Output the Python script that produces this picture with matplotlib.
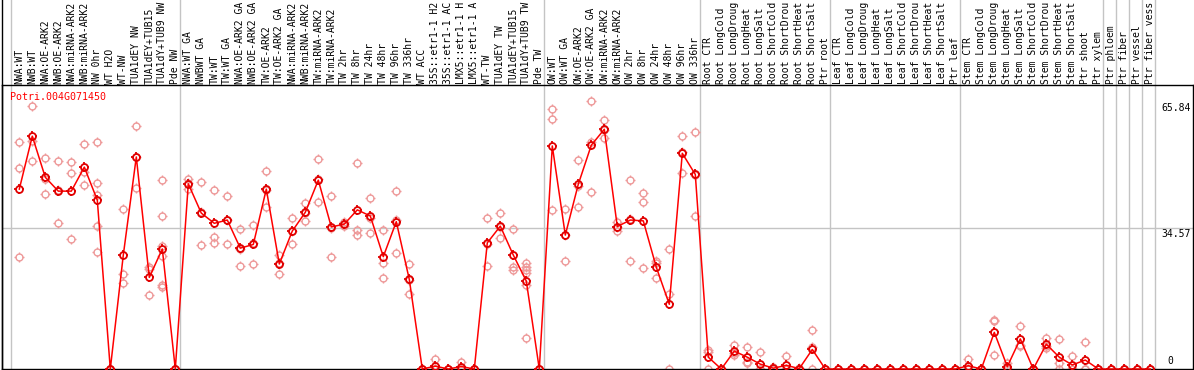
import numpy as np
import matplotlib
matplotlib.use("Agg")
import matplotlib.pyplot as plt
from matplotlib.path import Path
from matplotlib.lines import Line2D

gene = "Potri.004G071450"

# sample labels by group (as shown, clipped at the top of the figure)
g_nw = ["NWA:WT", "NWB:WT", "NWA:OE-ARK2", "NWB:OE-ARK2", "NWA:miRNA-ARK2",
        "NWB:miRNA-ARK2", "NW 0hr", "WT H2O", "WT-NW", "TUA1dEY NW",
        "TUA1dEY+TUB15", "TUA1dY+TUB9 NW", "Pde NW"]
g_tw = ["NWA:WT GA", "NWBWT GA", "TW:WT", "TW:WT GA", "NWA:OE-ARK2 GA",
        "NWB:OE-ARK2 GA", "TW:OE-ARK2", "TW:OE-ARK2 GA", "NWA:miRNA-ARK2",
        "NWB:miRNA-ARK2", "TW:miRNA-ARK2", "TW:miRNA-ARK2", "TW 2hr", "TW 8hr",
        "TW 24hr", "TW 48hr", "TW 96hr", "TW 336hr", "WT ACC", "35S::etr1-1 H2",
        "35S::etr1-1 AC", "LMX5::etr1-1 H", "LMX5::etr1-1 A", "WT-TW",
        "TUA1dEY TW", "TUA1dEY+TUB15", "TUA1dY+TUB9 TW", "Pde TW"]
g_ow = ["OW:WT", "OW:WT GA", "OW:OE-ARK2", "OW:OE-ARK2 GA", "OW:miRNA-ARK2",
        "OW:miRNA-ARK2", "OW 2hr", "OW 8hr", "OW 24hr", "OW 48hr", "OW 96hr",
        "OW 336hr"]
stress = ["CTR", "LongCold", "LongDroug", "LongHeat", "LongSalt",
          "ShortCold", "ShortDrou", "ShortHeat", "ShortSalt"]
g_root = ["Root " + s for s in stress] + ["Ptr root"]
g_leaf = ["Leaf " + s for s in stress] + ["Ptr leaf"]
g_stem = ["Stem " + s for s in stress] + ["Ptr shoot", "Ptr xylem"]
g_ptr = ["Ptr phloem", "Ptr fiber", "Ptr vessel", "Ptr fiber vess"]

groups = [g_nw, g_tw, g_ow, g_root, g_leaf, g_stem] + [[s] for s in g_ptr]
labels = [s for g in groups for s in g]

# mean expression per sample
means = [44.2, 57.2, 47.1, 43.7, 43.7, 49.6, 41.5, 0, 28.0, 52.1, 22.5, 29.5, 0,
         45.5, 38.3, 35.8, 36.6, 29.7, 30.6, 44.2, 25.8, 33.9, 38.5, 46.4, 34.9,
         35.6, 39.1, 37.6, 27.6, 36.2, 22.0, 0, 0.7, 0, 0.6, 0, 31.0, 35.1, 28.0,
         21.6, 0,
         54.8, 32.9, 45.4, 55.0, 58.9, 35.0, 36.6, 36.4, 25.0, 15.9, 53.0, 47.8,
         2.9, 0, 4.4, 2.9, 1.2, 0.2, 0.9, 0.1, 4.8, 0,
         0, 0, 0, 0, 0, 0, 0, 0, 0, 0,
         0.8, 0, 9.0, 0.6, 7.4, 0, 6.1, 2.9, 1.0, 2.2, 0,
         0, 0, 0, 0]

# replicate values per sample
reps = [[55.8, 49.4, 27.5], [64.6, 51.0, 56.1], [51.8, 42.9, 46.6],
        [51.1, 35.9, 44.1], [50.9, 48.2, 31.9], [55.2, 45.2, 48.4],
        [55.7, 45.6, 42.8, 35.1, 28.7], [0, 0, 0], [39.2, 23.3, 21.1],
        [59.7, 44.4, 52.2], [25.1, 24.6, 18.1],
        [46.4, 37.6, 30.3, 27.8, 20.6, 20.2], [0, 0, 0],
        [46.6, 44.2, 45.6], [45.9, 38.5, 30.5], [44.0, 32.5, 30.9],
        [42.6, 30.7, 36.5], [34.3, 25.3, 29.5], [35.4, 25.8, 31.0],
        [48.6, 39.9, 44.1], [28.0, 23.3, 26.0], [37.0, 30.6, 34.0],
        [40.7, 36.4, 38.4], [51.5, 41.0, 46.7], [42.5, 27.6, 34.6],
        [36.1, 35.6, 35.1], [50.5, 34.2, 32.9], [41.9, 37.0, 33.3],
        [34.2, 26.0, 22.3], [43.7, 28.4, 36.5], [25.8, 18.4, 21.8],
        [0, 0, 0], [2.4, 0, 0], [0, 0, 0], [1.6, 0.3, 0], [0, 0, 0],
        [37.0, 25.3, 30.7], [38.3, 32.1, 35.0], [34.3, 25.1, 24.3],
        [26.0, 25.1, 24.3, 23.5, 20.6, 7.5], [0, 0, 0],
        [63.9, 61.4, 39.1], [39.3, 26.5, 33.0], [51.4, 39.9, 45.0],
        [65.84, 55.8, 43.4], [61.2, 56.7, 58.8], [36.0, 35.0, 34.0],
        [46.4, 26.6, 36.8], [43.2, 41.0, 24.7], [26.6, 26.1, 22.3],
        [29.4, 18.4, 0], [57.2, 53.4, 48.1], [58.2, 37.6, 47.7],
        [4.6, 4.1, 0], [0, 0, 0], [5.9, 3.4, 3.9], [5.3, 1.7, 1.4],
        [4.1, 0, 0], [0.5, 0, 0], [3.2, 0, 0], [0.3, 0, 0], [9.6, 5.3, 0],
        [0, 0, 0],
        [0, 0, 0], [0, 0, 0], [0, 0, 0], [0, 0, 0], [0, 0, 0],
        [0, 0, 0], [0, 0, 0], [0, 0, 0], [0, 0, 0], [0, 0, 0],
        [2.4, 0, 0], [0, 0, 0], [11.8, 12.0, 3.4], [1.5, 0, 0],
        [10.6, 5.7, 5.9], [0, 0, 0], [7.5, 5.1, 5.7], [7.4, 1.5, 0],
        [3.2, 0, 0], [6.6, 0, 0], [0, 0, 0],
        [0, 0, 0], [0, 0, 0], [0, 0, 0], [0, 0, 0]]

y_ticks = [0, 34.57, 65.84]

# four little ticks around the circle marker
tick_path = Path([(0, 0.8), (0, 1.45), (0, -0.8), (0, -1.45),
                  (0.8, 0), (1.45, 0), (-0.8, 0), (-1.45, 0)],
                 [Path.MOVETO, Path.LINETO] * 4)
CIRC = 5.0           # circle diameter in points
TICK = CIRC * 1.45   # tick marker size so ticks sit on the circle


def ring(xs, ys, color, mew, z):
    ax.plot(xs, ys, linestyle="none", marker="o", ms=CIRC, mfc="none",
            mec=color, mew=mew, clip_on=False, zorder=z)
    ax.plot(xs, ys, linestyle="none", marker=tick_path, ms=TICK,
            mec=color, mew=mew, clip_on=False, zorder=z)


W, H = 1194, 370
fig = plt.figure(figsize=(W / 100, H / 100), dpi=100)
ax = fig.add_axes([1.7 / W, 1 / H, 1191 / W, 284 / H])

x = np.arange(len(labels))
ax.set_xlim(-1.354, 90.262)
ax.set_ylim(0, 69.78)

# group separators, running through the label area too
bounds = [-0.66]
n = 0
for g in groups:
    n += len(g)
    bounds.append(n - 1 + 0.36)
for b in bounds:
    ax.axvline(b, ymin=0, ymax=1.31, color="#c4c4c4", lw=1, clip_on=False, zorder=0)
ax.axhline(y_ticks[1], color="#c4c4c4", lw=1, zorder=0)

# replicates
rx = [i for i, r in enumerate(reps) for _ in r]
ry = [v for r in reps for v in r]
ring(rx, ry, "#ee9999", 1.0, 2)

# means
ax.plot(x, means, color="#ff0000", lw=1.1, zorder=3, clip_on=False)
ring(x, means, "#e00000", 1.3, 4)

for s in ["top", "bottom", "left", "right"]:
    ax.spines[s].set_color("black")
    ax.spines[s].set_linewidth(1)
ax.set_xticks([])
ax.set_yticks([])

mono = "DejaVu Sans Mono"
tr = ax.get_xaxis_transform()
for i, lab in enumerate(labels):
    ax.text(i, 1 + 1.5 / 284, lab, transform=tr, rotation=90, ha="center",
            va="bottom", fontsize=7, family=mono, color="black", clip_on=False)

ax.text(-0.7, 69.78 - 7 / 4.07, gene, color="#ff0000", fontsize=7.2,
        family=mono, va="top", ha="left")

ax.text(90.1, y_ticks[2] - 0.4, "65.84", fontsize=7, family=mono, ha="right", va="top")
ax.text(90.1, y_ticks[1] - 0.2, "34.57", fontsize=7, family=mono, ha="right", va="top")
ax.text(88.8, y_ticks[0] + 0.8, "0", fontsize=7, family=mono, ha="right", va="bottom")

# left border through the label area
fig.add_artist(Line2D([1.7 / W, 1.7 / W], [0, 1], color="black", lw=1))

fig.savefig("out.png", dpi=100)
